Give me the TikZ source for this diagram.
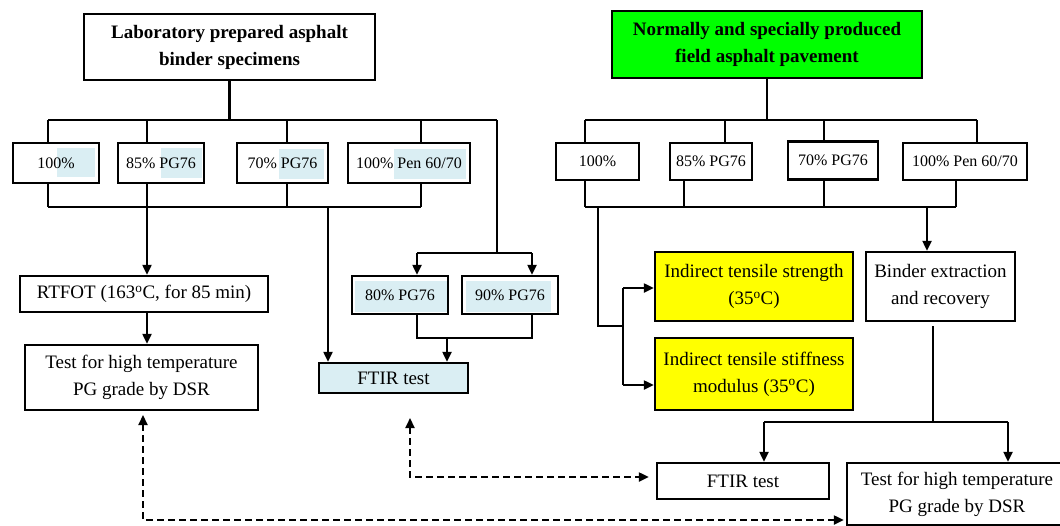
\documentclass[tikz,border=0pt]{standalone}
\usepackage{fontspec}
\setmainfont{Liberation Serif}
\usetikzlibrary{arrows.meta,calc}
\definecolor{hl}{RGB}{218,238,243}
\definecolor{ylw}{RGB}{255,255,0}
\definecolor{grn}{RGB}{0,255,0}
\begin{document}
\begin{tikzpicture}[x=1pt,y=-1pt,
  box/.style={draw, line width=2.4pt, inner sep=0pt, align=center, font=\fontsize{19}{27}\selectfont},
  tbox/.style={box, font=\bfseries\fontsize{19}{27}\selectfont},
  pbox/.style={box, font=\fontsize{16}{20}\selectfont},
  conn/.style={line width=2.2pt},
  arr/.style={conn, -{Triangle[length=10pt,width=9pt]}},
  dsh/.style={line width=2.2pt, dash pattern=on 7pt off 4pt, {Triangle[length=10pt,width=9pt]}-{Triangle[length=10pt,width=9pt]}},
]
\useasboundingbox (0,0) rectangle (1060,525);
\clip (0,0) rectangle (1060,525);

% highlight patches
\fill[hl] (57,148) rectangle (95,177);
\fill[hl] (161,148) rectangle (202,178);
\fill[hl] (279,149) rectangle (324,179);
\fill[hl] (394,149) rectangle (466,179);
\fill[hl] (355,281) rectangle (447,312);
\fill[hl] (466,281) rectangle (551,312);

% top boxes
\node[tbox, minimum width=291, minimum height=66] (lab) at (229.5,47) {Laboratory prepared asphalt\\binder specimens};
\node[tbox, fill=grn, minimum width=310, minimum height=67] (field) at (767,44.5) {Normally and specially produced\\field asphalt pavement};

% left row
\node[pbox, minimum width=86, minimum height=40] (L1) at (56,163) {100\%};
\node[pbox, minimum width=86, minimum height=40] (L2) at (161,163) {85\% PG76};
\node[pbox, minimum width=91, minimum height=40] (L3) at (282.5,163) {70\% PG76};
\node[pbox, minimum width=122, minimum height=40] (L4) at (409,163) {100\% Pen 60/70};

% right row
\node[pbox, minimum width=83, minimum height=37] (R1) at (597.5,161.5) {100\%};
\node[pbox, minimum width=82, minimum height=37] (R2) at (711,161.5) {85\% PG76};
\node[pbox, minimum width=90, minimum height=38] (R3) at (833,160.5) {70\% PG76};
\node[pbox, minimum width=124, minimum height=37] (R4) at (965,161.5) {100\% Pen 60/70};

% left lower
\node[box, minimum width=248, minimum height=36] (RTFOT) at (144,294) {RTFOT (163\textsuperscript{o}C, for 85 min)};
\node[box, minimum width=233, minimum height=65] (testL) at (141.5,377.5) {Test for high temperature\\PG grade by DSR};
\node[pbox, minimum width=96, minimum height=38] (P80) at (400,295) {80\% PG76};
\node[pbox, minimum width=96, minimum height=38] (P90) at (510,295) {90\% PG76};
\node[box, fill=hl, minimum width=149, minimum height=30] (FTIRL) at (393.5,378) {FTIR test};

% right lower
\node[box, fill=ylw, minimum width=198, minimum height=69] (ITS) at (754,286.5) {Indirect tensile strength\\(35\textsuperscript{o}C)};
\node[box, fill=ylw, minimum width=198, minimum height=72] (ITSM) at (754,374) {Indirect tensile stiffness\\modulus (35\textsuperscript{o}C)};
\node[box, minimum width=149, minimum height=69] (Binder) at (940.5,286.5) {Binder extraction\\and recovery};
\node[box, minimum width=172, minimum height=36] (FTIRR) at (743,481) {FTIR test};
\node[box, minimum width=220, minimum height=62] (testR) at (957,494) {Test for high temperature\\PG grade by DSR};

% ---- left connectors
\coordinate (lt1) at (48,120);
\coordinate (lt2) at (147,120);
\coordinate (lt3) at (287,120);
\coordinate (lt4) at (421,120);
\coordinate (lt5) at (497,120);
\draw[conn] (lab.south) -- (lab.south |- lt1);
\draw[conn] (lt1) -- (lt5);
\draw[conn] (lt1) -- (lt1 |- L1.north);
\draw[conn] (lt2) -- (lt2 |- L2.north);
\draw[conn] (lt3) -- (lt3 |- L3.north);
\draw[conn] (lt4) -- (lt4 |- L4.north);

\coordinate (lb1) at (48,207);
\coordinate (lb2) at (147,207);
\coordinate (lb3) at (287,207);
\coordinate (lb4) at (421,207);
\coordinate (lbx) at (328,207);
\draw[conn] (lb1) -- (lb4);
\draw[conn] (L1.south -| lb1) -- (lb1);
\draw[conn] (L2.south -| lb2) -- (lb2);
\draw[conn] (L3.south -| lb3) -- (lb3);
\draw[conn] (L4.south -| lb4) -- (lb4);
\draw[arr] (lb2) -- (lb2 |- RTFOT.north);
\draw[arr] (lbx) -- (lbx |- FTIRL.north);
\draw[arr] (RTFOT.south -| lb2) -- (testL.north -| lb2);

\coordinate (pj) at (497,253);
\coordinate (pa) at (417,253);
\coordinate (pb) at (532,253);
\draw[conn] (lt5) -- (pj);
\draw[conn] (pa) -- (pb);
\draw[arr] (pa) -- (pa |- P80.north);
\draw[arr] (pb) -- (pb |- P90.north);
\coordinate (qa) at (417,338);
\coordinate (qb) at (532,338);
\coordinate (qc) at (447,338);
\draw[conn] (P80.south -| qa) -- (qa) -- (qb) -- (P90.south -| qb);
\draw[arr] (qc) -- (qc |- FTIRL.north);

% ---- right connectors
\coordinate (rt1) at (585,120);
\coordinate (rt2) at (725,120);
\coordinate (rt3) at (824,120);
\coordinate (rt4) at (977,120);
\draw[conn] (field.south) -- (field.south |- rt1);
\draw[conn] (rt1) -- (rt4);
\draw[conn] (rt1) -- (rt1 |- R1.north);
\draw[conn] (rt2) -- (rt2 |- R2.north);
\draw[conn] (rt3) -- (rt3 |- R3.north);
\draw[conn] (rt4) -- (rt4 |- R4.north);

\coordinate (rb1) at (585,207);
\coordinate (rb2) at (684,207);
\coordinate (rb3) at (824,207);
\coordinate (rb4) at (956,207);
\draw[conn] (rb1) -- (rb4);
\draw[conn] (R1.south -| rb1) -- (rb1);
\draw[conn] (R2.south -| rb2) -- (rb2);
\draw[conn] (R3.south -| rb3) -- (rb3);
\draw[conn] (R4.south -| rb4) -- (rb4);

\coordinate (rv) at (598,207);
\coordinate (rk) at (598,326);
\coordinate (rk2) at (623,326);
\coordinate (ra) at (623,288);
\coordinate (rbb) at (623,385);
\draw[conn] (rv) -- (rk) -- (rk2);
\draw[conn] (ra) -- (rbb);
\draw[arr] (ra) -- (ra -| ITS.west);
\draw[arr] (rbb) -- (rbb -| ITSM.west);
\coordinate (rx) at (927,207);
\draw[arr] (rx) -- (rx |- Binder.north);

\coordinate (bj) at (933,422);
\coordinate (ba) at (764,422);
\coordinate (bb) at (1008,422);
\draw[conn] ($(Binder.south -| bj)+(0,4)$) -- (bj);
\draw[conn] (ba) -- (bb);
\draw[arr] (ba) -- (ba |- FTIRR.north);
\draw[arr] (bb) -- (bb |- testR.north);

% ---- dashed links
\coordinate (d1t) at (143,415);
\coordinate (d1) at (143,520);
\draw[dsh] (d1t) -- (d1) -- ($(d1 -| testR.west)+(-2,0)$);
\coordinate (d2t) at (410,418);
\coordinate (d2) at (410,477);
\draw[dsh] (d2t) -- (d2) -- ($(d2 -| FTIRR.west)+(-7,0)$);
\end{tikzpicture}
\end{document}
